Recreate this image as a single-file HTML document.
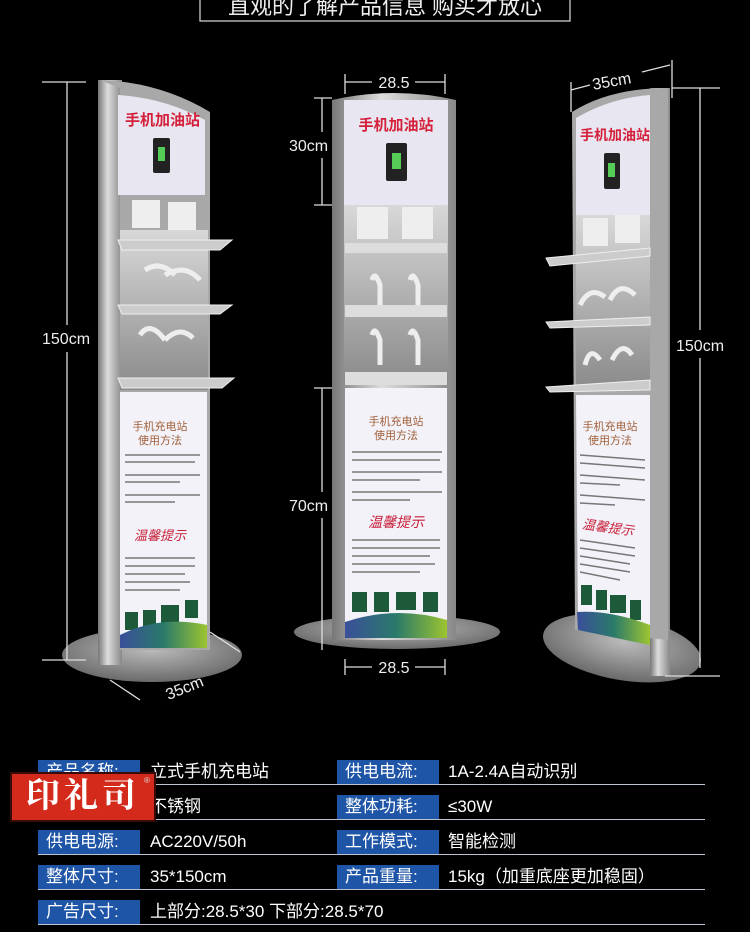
<!DOCTYPE html>
<html><head><meta charset="utf-8"><style>
html,body{margin:0;padding:0;background:#000;}
body{width:750px;height:932px;position:relative;overflow:hidden;font-family:"Liberation Sans","Noto Sans CJK SC",sans-serif;}
svg{position:absolute;left:0;top:0;}
.row{position:absolute;left:38px;width:667px;height:24px;border-bottom:1.5px solid #bcc3cc;}
.lb{position:absolute;height:24px;background:#1f55a6;color:#fff;font-size:17px;line-height:24px;padding-left:8px;width:94px;}
.v{position:absolute;color:#fff;font-size:17px;line-height:24px;}
</style></head><body>
<svg width="750" height="932" viewBox="0 0 750 932" font-family="Liberation Sans, Noto Sans CJK SC, sans-serif">
<defs>
<linearGradient id="post" x1="0" x2="1"><stop offset="0" stop-color="#777"/><stop offset="0.4" stop-color="#ddd"/><stop offset="1" stop-color="#888"/></linearGradient>
<linearGradient id="steel" x1="0" x2="0" y1="0" y2="1"><stop offset="0" stop-color="#d8d8d8"/><stop offset="1" stop-color="#8a8a8a"/></linearGradient>
<radialGradient id="base" cx="0.5" cy="0.4" r="0.6"><stop offset="0" stop-color="#bbb"/><stop offset="1" stop-color="#6a6a6a"/></radialGradient>
<linearGradient id="wave" x1="0" x2="1"><stop offset="0" stop-color="#3a4f9a"/><stop offset="0.5" stop-color="#2a7a6a"/><stop offset="1" stop-color="#9cc430"/></linearGradient>
</defs>
<!-- title -->
<rect x="200" y="-5" width="370" height="26" fill="none" stroke="#ccc" stroke-width="1.3"/>
<text x="385" y="14" fill="#eee" font-size="22" text-anchor="middle">直观的了解产品信息 购买才放心</text>

<!-- LEFT STAND -->
<ellipse cx="152" cy="655" rx="90" ry="27" fill="url(#base)"/>
<rect x="98" y="80" width="24" height="585" fill="url(#post)"/>
<path d="M100 80 Q160 82 210 112 L210 650 L120 650 L120 88 Z" fill="#a8a8a8"/>
<path d="M118 95 Q165 98 205 120 L205 195 L118 195 Z" fill="#e8e6f0"/>
<text x="125" y="125" fill="#d4203a" font-size="15" font-weight="bold">手机加油站</text>
<rect x="153" y="138" width="17" height="35" rx="2" fill="#222"/><rect x="158" y="147" width="7" height="14" fill="#5c5"/>
<rect x="132" y="200" width="28" height="28" fill="#eee"/><rect x="168" y="202" width="28" height="28" fill="#eee"/>
<rect x="120" y="230" width="88" height="160" fill="url(#steel)"/>
<path d="M118 240 L232 240 L220 250 L122 250 Z" fill="#ccc" stroke="#eee"/>
<path d="M118 305 L232 305 L220 314 L122 314 Z" fill="#ccc" stroke="#eee"/>
<path d="M118 378 L234 378 L222 388 L122 388 Z" fill="#ccc" stroke="#eee"/>
<path d="M145 270 q15 -10 30 5 M165 275 q20 -12 35 5 M140 335 q10 -15 25 5 M165 340 q15 -15 28 -2" stroke="#eee" stroke-width="5" fill="none"/>
<rect x="120" y="392" width="87" height="256" fill="#f3f2f8"/>
<text x="160" y="430" fill="#a0603a" font-size="11" text-anchor="middle">手机充电站</text>
<text x="160" y="444" fill="#a0603a" font-size="11" text-anchor="middle">使用方法</text>
<g stroke="#777" stroke-width="1.5"><line x1="125" y1="455" x2="200" y2="455"/><line x1="125" y1="462" x2="195" y2="462"/><line x1="125" y1="475" x2="200" y2="475"/><line x1="125" y1="482" x2="180" y2="482"/><line x1="125" y1="495" x2="200" y2="495"/><line x1="125" y1="502" x2="175" y2="502"/>
<line x1="125" y1="558" x2="195" y2="558"/><line x1="125" y1="566" x2="195" y2="566"/><line x1="125" y1="574" x2="185" y2="574"/><line x1="125" y1="582" x2="190" y2="582"/><line x1="125" y1="590" x2="180" y2="590"/></g>
<text x="160" y="540" fill="#c8203a" font-size="13" font-style="italic" text-anchor="middle">温馨提示</text>
<g fill="#1c5a3a"><rect x="125" y="612" width="13" height="18"/><rect x="143" y="610" width="13" height="18"/><rect x="161" y="605" width="18" height="18"/><rect x="185" y="600" width="13" height="18"/></g>
<path d="M120 635 Q160 615 207 625 L207 648 L120 648 Z" fill="url(#wave)"/>
<!-- left dims -->
<g stroke="#ddd" stroke-width="1.3"><line x1="67" y1="82" x2="67" y2="325"/><line x1="67" y1="352" x2="67" y2="660"/><line x1="42" y1="82" x2="86" y2="82"/><line x1="42" y1="660" x2="86" y2="660"/><line x1="110" y1="680" x2="140" y2="700"/><line x1="210" y1="632" x2="240" y2="652"/></g>
<text x="42" y="344" fill="#eee" font-size="16">150cm</text>
<text x="165" y="693" fill="#eee" font-size="16" transform="rotate(-22 185 688)">35cm</text>

<!-- MIDDLE STAND -->
<ellipse cx="397" cy="632" rx="103" ry="17" fill="url(#base)"/>
<path d="M332 100 Q394 86 456 100 L456 640 L332 640 Z" fill="url(#post)"/>
<rect x="344" y="100" width="104" height="105" fill="#e8e6f0"/>
<text x="396" y="130" fill="#d4203a" font-size="15" font-weight="bold" text-anchor="middle">手机加油站</text>
<rect x="386" y="143" width="21" height="38" rx="2" fill="#222"/><rect x="392" y="153" width="9" height="16" fill="#5c5"/>
<rect x="344" y="205" width="104" height="180" fill="url(#steel)"/>
<rect x="357" y="207" width="31" height="32" fill="#eee"/><rect x="402" y="207" width="31" height="32" fill="#eee"/>
<rect x="345" y="243" width="102" height="10" fill="#ddd"/>
<rect x="345" y="305" width="102" height="12" fill="#ddd"/>
<rect x="345" y="372" width="102" height="13" fill="#ddd"/>
<path d="M372 280 q3 -10 8 5 v20 M410 280 q3 -10 8 5 v20 M372 335 q3 -10 8 5 v25 M410 335 q3 -10 8 5 v25" stroke="#eee" stroke-width="5" fill="none"/>
<rect x="345" y="388" width="102" height="250" fill="#f3f2f8"/>
<text x="396" y="425" fill="#a0603a" font-size="11" text-anchor="middle">手机充电站</text>
<text x="396" y="439" fill="#a0603a" font-size="11" text-anchor="middle">使用方法</text>
<g stroke="#777" stroke-width="1.5"><line x1="352" y1="452" x2="442" y2="452"/><line x1="352" y1="460" x2="440" y2="460"/><line x1="352" y1="472" x2="442" y2="472"/><line x1="352" y1="480" x2="420" y2="480"/><line x1="352" y1="492" x2="442" y2="492"/><line x1="352" y1="500" x2="410" y2="500"/>
<line x1="352" y1="540" x2="440" y2="540"/><line x1="352" y1="548" x2="440" y2="548"/><line x1="352" y1="556" x2="430" y2="556"/><line x1="352" y1="564" x2="435" y2="564"/><line x1="352" y1="572" x2="420" y2="572"/></g>
<text x="396" y="527" fill="#c8203a" font-size="14" font-style="italic" text-anchor="middle">温馨提示</text>
<g fill="#1c5a3a"><rect x="352" y="592" width="15" height="20"/><rect x="374" y="592" width="15" height="20"/><rect x="396" y="592" width="20" height="18"/><rect x="423" y="592" width="15" height="20"/></g>
<path d="M345 622 Q396 605 447 620 L447 638 L345 638 Z" fill="url(#wave)"/>
<g stroke="#ddd" stroke-width="1.3"><line x1="345" y1="82" x2="372" y2="82"/><line x1="415" y1="82" x2="445" y2="82"/><line x1="345" y1="74" x2="345" y2="94"/><line x1="445" y1="74" x2="445" y2="94"/>
<line x1="322" y1="98" x2="322" y2="132"/><line x1="322" y1="158" x2="322" y2="205"/><line x1="314" y1="98" x2="332" y2="98"/><line x1="314" y1="205" x2="332" y2="205"/>
<line x1="322" y1="388" x2="322" y2="492"/><line x1="322" y1="518" x2="322" y2="650"/><line x1="314" y1="388" x2="332" y2="388"/>
<line x1="345" y1="667" x2="372" y2="667"/><line x1="415" y1="667" x2="445" y2="667"/><line x1="345" y1="659" x2="345" y2="675"/><line x1="445" y1="659" x2="445" y2="675"/></g>
<text x="394" y="88" fill="#eee" font-size="16" text-anchor="middle">28.5</text>
<text x="289" y="151" fill="#eee" font-size="16">30cm</text>
<text x="289" y="511" fill="#eee" font-size="16">70cm</text>
<text x="394" y="673" fill="#eee" font-size="16" text-anchor="middle">28.5</text>

<!-- RIGHT STAND -->
<ellipse cx="622" cy="648" rx="80" ry="32" fill="url(#base)" transform="rotate(10 622 648)"/>
<rect x="650" y="88" width="20" height="588" fill="url(#post)"/>
<path d="M572 112 Q610 88 668 88 L668 640 L575 630 Z" fill="#a8a8a8"/>
<path d="M576 118 Q610 98 650 95 L650 215 L576 215 Z" fill="#e8e6f0"/>
<text x="580" y="140" fill="#d4203a" font-size="14" font-weight="bold">手机加油站</text>
<rect x="604" y="153" width="16" height="36" rx="2" fill="#222"/><rect x="608" y="163" width="7" height="14" fill="#5c5"/>
<rect x="576" y="215" width="74" height="175" fill="url(#steel)"/>
<rect x="583" y="218" width="25" height="28" fill="#eee"/><rect x="615" y="215" width="25" height="28" fill="#eee"/>
<path d="M546 258 L650 248 L650 256 L550 266 Z" fill="#ccc" stroke="#eee"/>
<path d="M546 322 L650 317 L650 325 L550 328 Z" fill="#ccc" stroke="#eee"/>
<path d="M546 387 L650 380 L650 390 L550 392 Z" fill="#ccc" stroke="#eee"/>
<path d="M580 305 q10 -20 25 -8 M610 300 q10 -20 25 -5 M585 365 q5 -20 15 -5 M612 360 q10 -20 20 -5" stroke="#eee" stroke-width="5" fill="none"/>
<path d="M576 395 L650 395 L650 645 L578 625 Z" fill="#f3f2f8"/>
<text x="610" y="430" fill="#a0603a" font-size="11" text-anchor="middle">手机充电站</text>
<text x="610" y="444" fill="#a0603a" font-size="11" text-anchor="middle">使用方法</text>
<g stroke="#777" stroke-width="1.5"><line x1="580" y1="455" x2="645" y2="460"/><line x1="580" y1="463" x2="645" y2="468"/><line x1="580" y1="475" x2="645" y2="480"/><line x1="580" y1="483" x2="620" y2="485"/><line x1="580" y1="495" x2="645" y2="500"/><line x1="580" y1="503" x2="615" y2="505"/>
<line x1="580" y1="540" x2="635" y2="548"/><line x1="580" y1="548" x2="635" y2="556"/><line x1="580" y1="556" x2="630" y2="564"/><line x1="580" y1="564" x2="630" y2="572"/><line x1="580" y1="572" x2="620" y2="580"/></g>
<text x="608" y="532" fill="#c8203a" font-size="13" font-style="italic" text-anchor="middle" transform="rotate(8 608 528)">温馨提示</text>
<g fill="#1c5a3a"><rect x="581" y="585" width="11" height="20"/><rect x="596" y="590" width="11" height="20"/><rect x="610" y="595" width="16" height="18"/><rect x="630" y="600" width="11" height="20"/></g>
<path d="M577 612 Q610 610 650 625 L650 645 L578 630 Z" fill="url(#wave)"/>
<g stroke="#ddd" stroke-width="1.3"><line x1="700" y1="88" x2="700" y2="330"/><line x1="700" y1="358" x2="700" y2="668"/><line x1="672" y1="88" x2="720" y2="88"/><line x1="665" y1="676" x2="720" y2="676"/>
<line x1="571" y1="90" x2="590" y2="85"/><line x1="642" y1="72" x2="670" y2="65"/><line x1="571" y1="82" x2="571" y2="112"/><line x1="672" y1="60" x2="672" y2="98"/></g>
<text x="592" y="86" fill="#eee" font-size="16" transform="rotate(-10 615 80)">35cm</text>
<text x="676" y="351" fill="#eee" font-size="16">150cm</text>
</svg>

<div class="row" style="top:760px"><div class="lb" style="left:0">产品名称:</div><div class="v" style="left:112px">立式手机充电站</div><div class="lb" style="left:299px">供电电流:</div><div class="v" style="left:410px">1A-2.4A自动识别</div></div>
<div class="row" style="top:795px"><div class="lb" style="left:0">产品材质:</div><div class="v" style="left:112px">不锈钢</div><div class="lb" style="left:299px">整体功耗:</div><div class="v" style="left:410px">≤30W</div></div>
<div class="row" style="top:830px"><div class="lb" style="left:0">供电电源:</div><div class="v" style="left:112px">AC220V/50h</div><div class="lb" style="left:299px">工作模式:</div><div class="v" style="left:410px">智能检测</div></div>
<div class="row" style="top:865px"><div class="lb" style="left:0">整体尺寸:</div><div class="v" style="left:112px">35*150cm</div><div class="lb" style="left:299px">产品重量:</div><div class="v" style="left:410px">15kg（加重底座更加稳固）</div></div>
<div class="row" style="top:900px"><div class="lb" style="left:0">广告尺寸:</div><div class="v" style="left:112px">上部分:28.5*30 下部分:28.5*70</div></div>

<div style="position:absolute;left:10px;top:772px;width:146px;height:50px;background:#d42a1c;border:2px solid #3a0a06;box-sizing:border-box;color:#fff;font-family:'Liberation Serif','Noto Serif CJK SC',serif;font-weight:bold;font-size:34px;line-height:46px;text-align:center;letter-spacing:4px;">印礼司</div>
<div style="position:absolute;left:144px;top:776px;color:#ddd;font-size:8px;">®</div>
</body></html>
